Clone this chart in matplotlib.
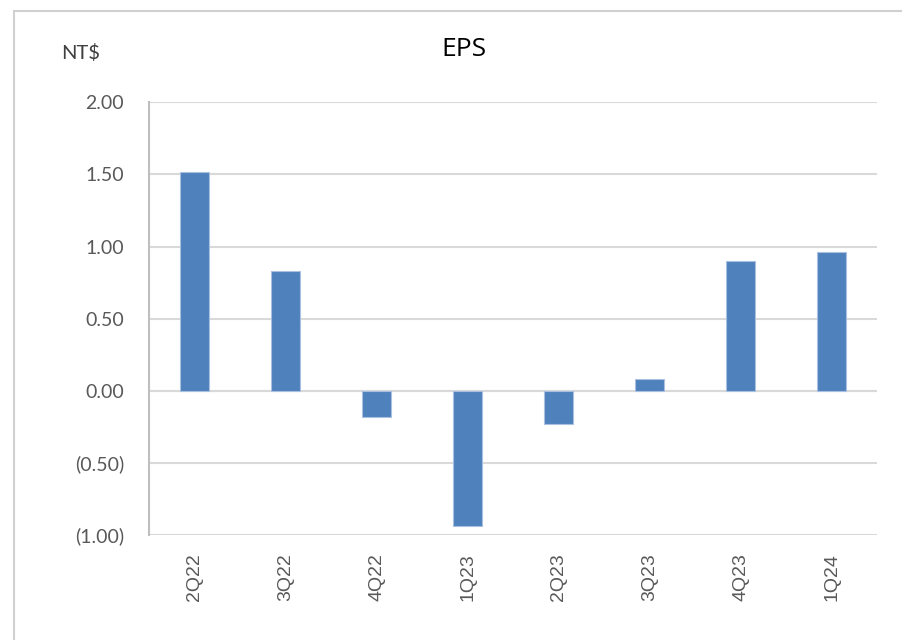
import matplotlib
matplotlib.use("Agg")
import matplotlib.pyplot as plt
from matplotlib.patches import Rectangle

categories = ["2Q22", "3Q22", "4Q22", "1Q23", "2Q23", "3Q23", "4Q23", "1Q24"]
eps = [1.52, 0.83, -0.18, -0.94, -0.23, 0.08, 0.90, 0.96]
yticks = [-1.0, -0.5, 0.0, 0.5, 1.0, 1.5, 2.0]
ytick_labels = ["(1.00)", "(0.50)", "0.00", "0.50", "1.00", "1.50", "2.00"]

fig = plt.figure(figsize=(9.02, 6.40), dpi=100)
fig.patch.set_facecolor("white")

# outer chart border
fig.add_artist(Rectangle((14 / 902, -0.05), 1.2, 1 - 11 / 640 + 0.05,
                         transform=fig.transFigure, fill=False,
                         edgecolor="#D0D0D0", linewidth=1.5))

ax = fig.add_axes([149 / 902, 1 - 535 / 640, (877 - 149) / 902, (535 - 102.3) / 640])
x = list(range(len(categories)))
ax.bar(x, eps, width=0.31, color="#4F81BD", edgecolor="#A9C0E0", linewidth=0.8, zorder=3)

ax.set_xlim(-0.5, len(categories) - 0.5)
ax.set_ylim(-1.0, 2.0)
ax.set_yticks(yticks)
ax.set_yticklabels(ytick_labels, fontfamily="Lato", fontsize=14, color="#595959")
ax.set_xticks(x)
ax.set_xticklabels(categories, rotation=90, fontfamily="Liberation Sans",
                   fontsize=14, color="#595959")
ax.tick_params(axis="both", length=0)
ax.tick_params(axis="y", pad=18)
ax.tick_params(axis="x", pad=13)

ax.grid(axis="y", color="#D9D9D9", linewidth=1.5, zorder=0)
ax.axhline(0, color="#D9D9D9", linewidth=1.5, zorder=1)
for side in ["top", "right", "bottom"]:
    ax.spines[side].set_visible(False)
ax.spines["left"].set_color("#BFBFBF")
ax.spines["left"].set_linewidth(1.5)

fig.text(464 / 902, 1 - 50 / 640, "EPS", ha="center", va="center",
         fontfamily="Open Sans", fontsize=19, color="#000000")
fig.text(81 / 902, 1 - 53 / 640, "NT$", ha="center", va="center",
         fontfamily="Lato", fontsize=14.5, color="#404040")

fig.savefig("out.png", dpi=100)
